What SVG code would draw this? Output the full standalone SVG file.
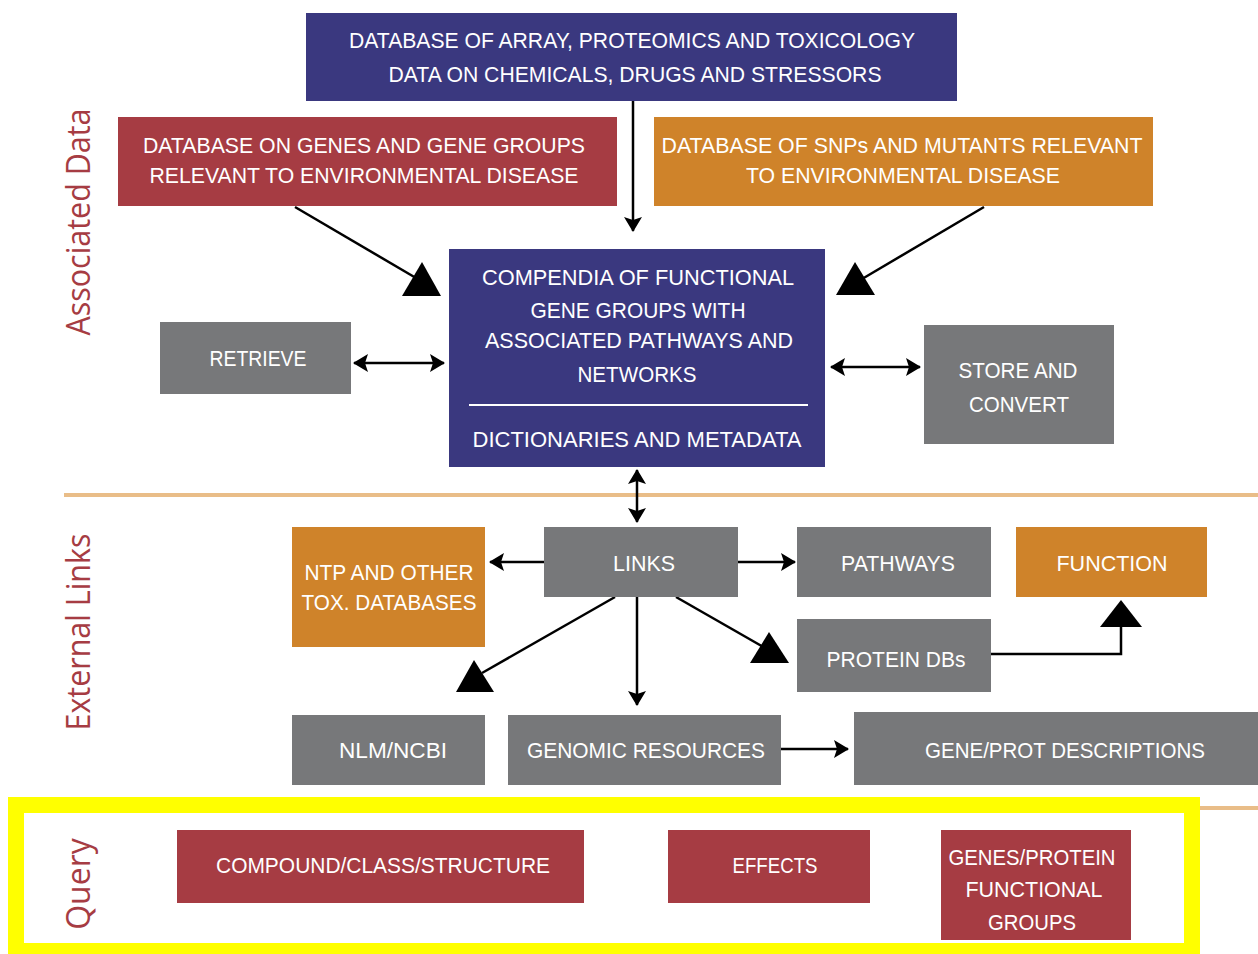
<svg xmlns="http://www.w3.org/2000/svg" width="1258" height="954" viewBox="0 0 1258 954">
<style>
.navy{fill:#3a387f}
.red{fill:#a63c43}
.orange{fill:#cf832a}
.gray{fill:#77787a}
.t{font-family:"Liberation Sans",Arial,sans-serif;font-size:22px;fill:#ffffff;text-anchor:middle}
.sec{font-family:"Open Sans","Liberation Sans",sans-serif;font-size:32px;fill:#a63c43;text-anchor:middle}
.ln{stroke:#000;stroke-width:2.5;fill:none}
.big{fill:#000}
</style>
<defs>
<marker id="ah" viewBox="0 0 15 18" refX="14" refY="9" markerWidth="15" markerHeight="18" markerUnits="userSpaceOnUse" orient="auto-start-reverse">
<path d="M0,0 L15,9 L0,18 L3,9 z" fill="#000"/>
</marker>
</defs>
<rect width="1258" height="954" fill="#fff"/>
<g id="dividers">
<rect x="64" y="493" width="1194" height="4" fill="#e9bd88"/>
<rect x="64" y="806" width="1194" height="4" fill="#e9bd88"/>
</g>
<g id="query-frame">
<rect x="16" y="805" width="1176" height="146" fill="#fff" stroke="#ffff00" stroke-width="16"/>
</g>
<g id="section-labels">
<text class="sec" transform="translate(90,222) rotate(-90)" textLength="227" lengthAdjust="spacingAndGlyphs">Associated Data</text>
<text class="sec" transform="translate(90,632) rotate(-90)" textLength="197" lengthAdjust="spacingAndGlyphs">External Links</text>
<text class="sec" transform="translate(90,884) rotate(-90)">Query</text>
</g>
<g id="connectors">
<line class="ln" x1="633" y1="101" x2="633" y2="231" marker-end="url(#ah)"/>
<line class="ln" x1="295" y1="207" x2="416" y2="278"/>
<polygon class="big" points="422,262 441,296 402,296"/>
<line class="ln" x1="984" y1="207" x2="862" y2="279"/>
<polygon class="big" points="855,262 875,295 836,295"/>
<line class="ln" x1="354" y1="363" x2="444" y2="363" marker-start="url(#ah)" marker-end="url(#ah)"/>
<line class="ln" x1="831" y1="367" x2="920" y2="367" marker-start="url(#ah)" marker-end="url(#ah)"/>
<line class="ln" x1="637" y1="470" x2="637" y2="522" marker-start="url(#ah)" marker-end="url(#ah)"/>
<line class="ln" x1="544" y1="562" x2="490" y2="562" marker-end="url(#ah)"/>
<line class="ln" x1="738" y1="562" x2="795" y2="562" marker-end="url(#ah)"/>
<line class="ln" x1="615" y1="597" x2="482" y2="673"/>
<polygon class="big" points="474,660 494,692 456,692"/>
<line class="ln" x1="637" y1="597" x2="637" y2="705" marker-end="url(#ah)"/>
<line class="ln" x1="676" y1="597" x2="765" y2="648"/>
<polygon class="big" points="769,632 789,663 750,663"/>
<polyline class="ln" points="991,654 1121,654 1121,615"/>
<polygon class="big" points="1121,600 1142,627 1100,627"/>
<line class="ln" x1="781" y1="749" x2="848" y2="749" marker-end="url(#ah)"/>
</g>
<g id="n-top">
<rect class="navy" x="306" y="13" width="651" height="88"/>
<text class="t" x="632" y="48" textLength="566" lengthAdjust="spacingAndGlyphs">DATABASE OF ARRAY, PROTEOMICS AND TOXICOLOGY</text>
<text class="t" x="635" y="82" textLength="493" lengthAdjust="spacingAndGlyphs">DATA ON CHEMICALS, DRUGS AND STRESSORS</text>
</g>
<g id="n-genes">
<rect class="red" x="118" y="117" width="499" height="89"/>
<text class="t" x="364" y="153" textLength="442" lengthAdjust="spacingAndGlyphs">DATABASE ON GENES AND GENE GROUPS</text>
<text class="t" x="364" y="183" textLength="429" lengthAdjust="spacingAndGlyphs">RELEVANT TO ENVIRONMENTAL DISEASE</text>
</g>
<g id="n-snps">
<rect class="orange" x="654" y="117" width="499" height="89"/>
<text class="t" x="902" y="153" textLength="481" lengthAdjust="spacingAndGlyphs">DATABASE OF SNPs AND MUTANTS RELEVANT</text>
<text class="t" x="903" y="183" textLength="314" lengthAdjust="spacingAndGlyphs">TO ENVIRONMENTAL DISEASE</text>
</g>
<g id="n-compendia">
<rect class="navy" x="449" y="249" width="376" height="218"/>
<text class="t" x="638" y="285" textLength="312" lengthAdjust="spacingAndGlyphs">COMPENDIA OF FUNCTIONAL</text>
<text class="t" x="638" y="318" textLength="215" lengthAdjust="spacingAndGlyphs">GENE GROUPS WITH</text>
<text class="t" x="639" y="348" textLength="308" lengthAdjust="spacingAndGlyphs">ASSOCIATED PATHWAYS AND</text>
<text class="t" x="637" y="382" textLength="119" lengthAdjust="spacingAndGlyphs">NETWORKS</text>
<line x1="469" y1="405" x2="808" y2="405" stroke="#fff" stroke-width="2"/>
<text class="t" x="637" y="447" textLength="329" lengthAdjust="spacingAndGlyphs">DICTIONARIES AND METADATA</text>
</g>
<g id="n-retrieve">
<rect class="gray" x="160" y="322" width="191" height="72"/>
<text class="t" x="258" y="366" textLength="97" lengthAdjust="spacingAndGlyphs">RETRIEVE</text>
</g>
<g id="n-store">
<rect class="gray" x="924" y="325" width="190" height="119"/>
<text class="t" x="1018" y="378" textLength="119" lengthAdjust="spacingAndGlyphs">STORE AND</text>
<text class="t" x="1019" y="412" textLength="100" lengthAdjust="spacingAndGlyphs">CONVERT</text>
</g>
<g id="n-ntp">
<rect class="orange" x="292" y="527" width="193" height="120"/>
<text class="t" x="389" y="580" textLength="169" lengthAdjust="spacingAndGlyphs">NTP AND OTHER</text>
<text class="t" x="389" y="610" textLength="175" lengthAdjust="spacingAndGlyphs">TOX. DATABASES</text>
</g>
<g id="n-links">
<rect class="gray" x="544" y="527" width="194" height="70"/>
<text class="t" x="644" y="571" textLength="62" lengthAdjust="spacingAndGlyphs">LINKS</text>
</g>
<g id="n-pathways">
<rect class="gray" x="797" y="527" width="194" height="70"/>
<text class="t" x="898" y="571" textLength="114" lengthAdjust="spacingAndGlyphs">PATHWAYS</text>
</g>
<g id="n-function">
<rect class="orange" x="1016" y="527" width="191" height="70"/>
<text class="t" x="1112" y="571" textLength="111" lengthAdjust="spacingAndGlyphs">FUNCTION</text>
</g>
<g id="n-protein">
<rect class="gray" x="797" y="619" width="194" height="73"/>
<text class="t" x="896" y="667" textLength="139" lengthAdjust="spacingAndGlyphs">PROTEIN DBs</text>
</g>
<g id="n-nlm">
<rect class="gray" x="292" y="715" width="193" height="70"/>
<text class="t" x="393" y="758" textLength="108" lengthAdjust="spacingAndGlyphs">NLM/NCBI</text>
</g>
<g id="n-genomic">
<rect class="gray" x="508" y="715" width="273" height="70"/>
<text class="t" x="646" y="758" textLength="238" lengthAdjust="spacingAndGlyphs">GENOMIC RESOURCES</text>
</g>
<g id="n-geneprot">
<rect class="gray" x="854" y="712" width="410" height="73"/>
<text class="t" x="1065" y="758" textLength="280" lengthAdjust="spacingAndGlyphs">GENE/PROT DESCRIPTIONS</text>
</g>
<g id="n-compound">
<rect class="red" x="177" y="830" width="407" height="73"/>
<text class="t" x="383" y="873" textLength="334" lengthAdjust="spacingAndGlyphs">COMPOUND/CLASS/STRUCTURE</text>
</g>
<g id="n-effects">
<rect class="red" x="668" y="830" width="202" height="73"/>
<text class="t" x="775" y="873" textLength="85" lengthAdjust="spacingAndGlyphs">EFFECTS</text>
</g>
<g id="n-genesprotein">
<rect class="red" x="941" y="830" width="190" height="110"/>
<text class="t" x="1032" y="865" textLength="167" lengthAdjust="spacingAndGlyphs">GENES/PROTEIN</text>
<text class="t" x="1034" y="897" textLength="137" lengthAdjust="spacingAndGlyphs">FUNCTIONAL</text>
<text class="t" x="1032" y="930" textLength="88" lengthAdjust="spacingAndGlyphs">GROUPS</text>
</g>
</svg>
